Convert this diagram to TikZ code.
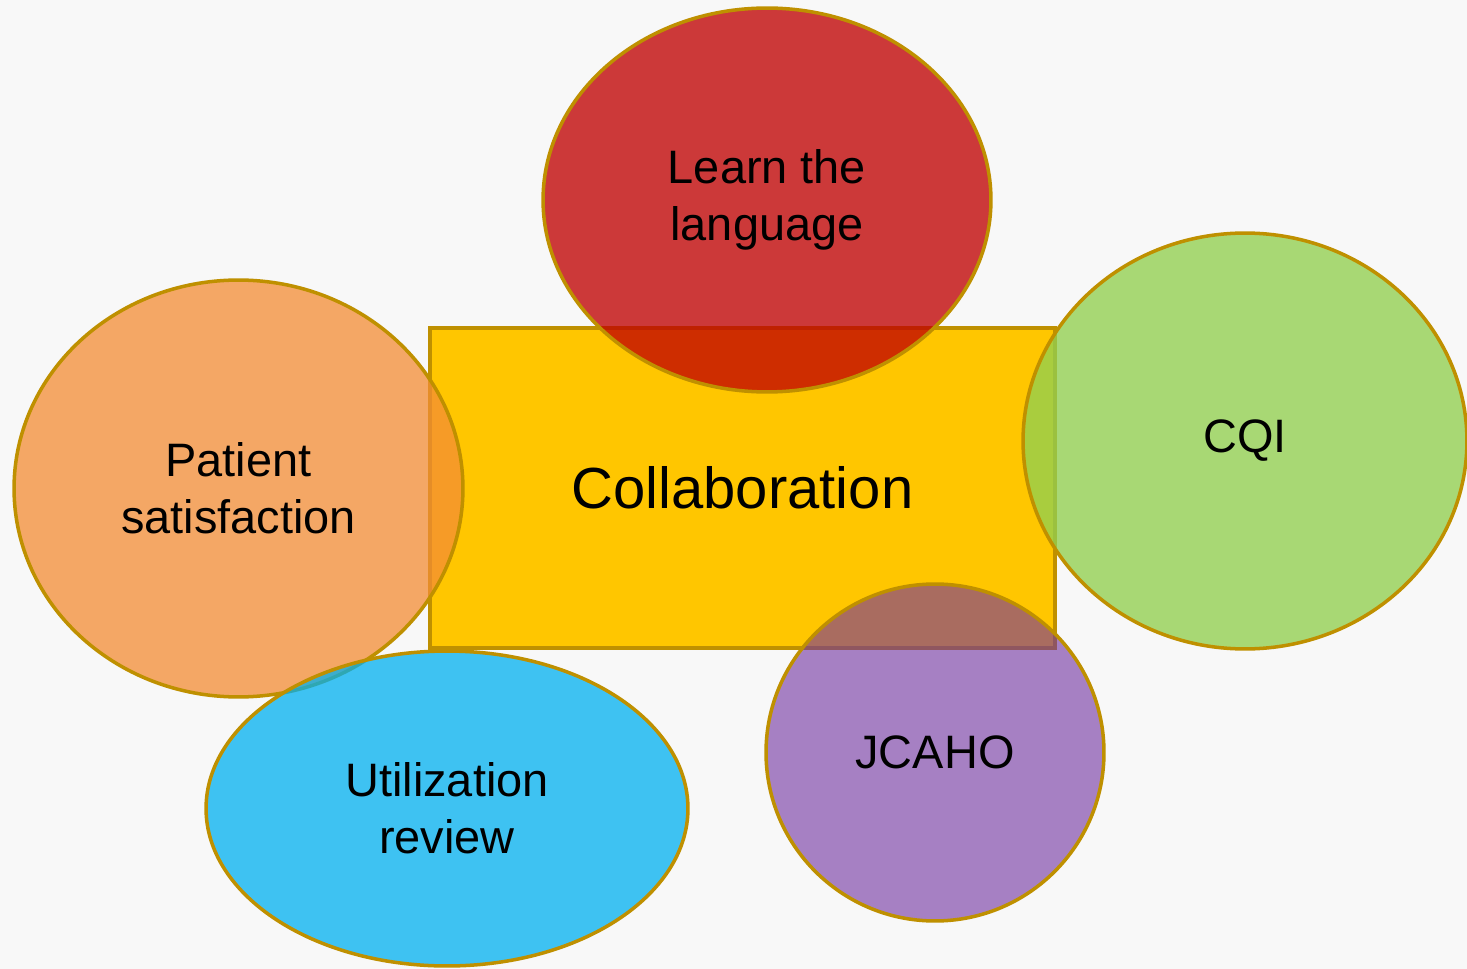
\documentclass[tikz,border=0pt]{standalone}
\usepackage{fontspec}
\setmainfont{Liberation Sans}
\usetikzlibrary{shapes.geometric}
\definecolor{paper}{HTML}{F8F8F8}
\definecolor{rim}{HTML}{BF9000}
\definecolor{collabfill}{HTML}{FFC600}
\definecolor{langred}{HTML}{C00000}
\definecolor{cqigreen}{HTML}{92D050}
\definecolor{patorange}{HTML}{F38D35}
\definecolor{urblue}{HTML}{00B0F0}
\definecolor{jcpurple}{HTML}{7030A0}
\tikzset{
  bubble/.style={ellipse, draw=rim, line width=2pt, inner sep=0pt, outer sep=0pt,
    align=center, fill opacity=0.75, text opacity=1,
    font=\fontsize{26.7}{32.6}\selectfont},
}

\begin{document}
\begin{tikzpicture}[x=0.02cm,y=-0.02cm]
        \fill[paper] (0,0) rectangle (1467,969);
        \useasboundingbox (0,0) rectangle (1467,969);
        \node[draw=rim, fill=collabfill, line width=2pt, inner sep=0pt, minimum width=12.5cm, minimum height=6.4cm, font=\fontsize{33}{40}\selectfont] (collab) at (742.5,488) {Collaboration};
        \node[bubble, fill=langred, fill opacity=0.77, minimum width=8.96cm, minimum height=7.68cm] (lang) at (767,200) {Learn the\\language};
        \node[bubble, fill=cqigreen, fill opacity=0.78, minimum width=8.88cm, minimum height=8.32cm] (cqi) at (1245,441) {CQI};
        \node[bubble, fill=patorange, minimum width=8.98cm, minimum height=8.34cm] (patient) at (238.5,488.5) {Patient\\satisfaction};
        \node[bubble, fill=urblue, minimum width=9.64cm, minimum height=6.3cm] (review) at (447,808.5) {Utilization\\review};
        \node[bubble, fill=jcpurple, fill opacity=0.6, minimum width=6.76cm, minimum height=6.74cm] (jcaho) at (935,752.5) {JCAHO};
    \end{tikzpicture}
\end{document}
